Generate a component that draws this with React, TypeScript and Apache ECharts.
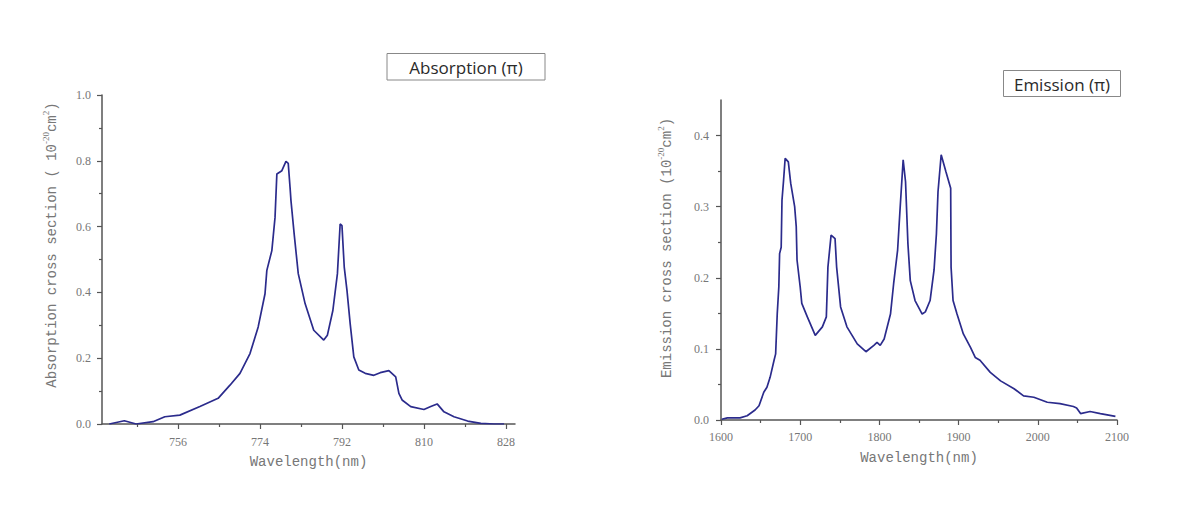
import React, { useEffect, useRef } from "react";
import * as echarts from "echarts";

// Absorption (π) spectrum
const absWavelength = [740.9, 744.2, 746.8, 750.5, 753.1, 756.4, 760.8, 764.8, 767.4, 769.6, 771.8, 773.6, 775.1, 775.5, 776.6, 777.3, 777.7, 778.8, 779.7, 780.2, 780.6, 780.8, 781.5, 782.4, 783.9, 785.8, 788.0, 788.8, 790.0, 791.0, 791.6, 792.0, 792.5, 793.1, 793.8, 794.6, 795.7, 797.1, 799.0, 800.4, 802.3, 803.8, 804.5, 805.2, 807.1, 810.0, 811.5, 812.9, 814.4, 816.6, 819.6, 822.5, 825.4, 827.6];
const absValue = [0.0, 0.010, 0.0, 0.007, 0.022, 0.027, 0.053, 0.078, 0.118, 0.154, 0.214, 0.295, 0.396, 0.467, 0.527, 0.628, 0.760, 0.770, 0.798, 0.792, 0.719, 0.679, 0.578, 0.457, 0.366, 0.285, 0.255, 0.270, 0.345, 0.457, 0.608, 0.603, 0.477, 0.406, 0.305, 0.204, 0.164, 0.154, 0.148, 0.156, 0.162, 0.143, 0.093, 0.073, 0.053, 0.044, 0.053, 0.061, 0.037, 0.022, 0.009, 0.002, 0.0, 0.0];

// Emission (π) spectrum
const emiWavelength = [1601, 1608, 1624, 1633, 1643, 1648, 1654, 1658, 1662, 1667, 1669, 1671, 1673, 1674, 1676, 1677, 1679, 1681, 1685, 1688, 1693, 1695, 1696, 1700, 1702, 1709, 1719, 1728, 1733, 1735, 1739, 1744, 1746, 1751, 1759, 1772, 1783, 1793, 1797, 1801, 1806, 1814, 1818, 1823, 1826, 1830, 1833, 1836, 1839, 1845, 1854, 1858, 1864, 1869, 1872, 1874, 1878, 1884, 1890, 1890.5, 1893, 1898, 1906, 1915, 1921, 1927, 1940, 1953, 1970, 1982, 1995, 2012, 2028, 2045, 2049, 2054, 2066, 2079, 2098];
const emiValue = [0.001, 0.003, 0.003, 0.006, 0.014, 0.020, 0.039, 0.046, 0.060, 0.084, 0.093, 0.149, 0.187, 0.234, 0.243, 0.309, 0.337, 0.368, 0.363, 0.333, 0.300, 0.272, 0.225, 0.187, 0.164, 0.145, 0.119, 0.131, 0.145, 0.215, 0.260, 0.255, 0.215, 0.159, 0.131, 0.107, 0.096, 0.105, 0.109, 0.105, 0.114, 0.149, 0.192, 0.239, 0.295, 0.366, 0.335, 0.248, 0.196, 0.168, 0.149, 0.152, 0.168, 0.211, 0.262, 0.321, 0.373, 0.349, 0.326, 0.215, 0.168, 0.149, 0.121, 0.102, 0.088, 0.084, 0.067, 0.055, 0.044, 0.034, 0.032, 0.025, 0.023, 0.019, 0.017, 0.009, 0.012, 0.009, 0.005];

// Tick values
const absXTicks = [756, 774, 792, 810, 828];
const absXMinorTicks = [747, 765, 783, 801, 819];
const absYTicks = [0, 0.2, 0.4, 0.6, 0.8, 1.0];
const absYMinorTicks = [0.1, 0.3, 0.5, 0.7, 0.9];
const emiXTicks = [1600, 1700, 1800, 1900, 2000, 2100];
const emiXMinorTicks = [1650, 1750, 1850, 1950, 2050];
const emiYTicks = [0, 0.1, 0.2, 0.3, 0.4];
const emiYMinorTicks = [0.05, 0.15, 0.25, 0.35];

const absTitle = "Absorption (π)";
const emiTitle = "Emission (π)";
const xName = "Wavelength(nm)";
const absYName = "{t|Absorption cross section ( 10}{s|-20}{t|cm}{s|2}{t|)}";
const emiYName = "{t|Emission cross section (10}{s|-20}{t|cm}{s|2}{t|)}";

const LINE = "#2b2b8c";
const AXIS = "#555";
const LABEL = "#777";
const MONO = "'Liberation Mono', 'DejaVu Sans Mono', monospace";
const SERIF = "'Liberation Serif', 'DejaVu Serif', serif";

function majorX(gridIndex: number, min: number, max: number, ticks: number[], margin: number) {
  return {
    type: "value",
    gridIndex,
    position: "bottom",
    min,
    max,
    axisLine: { show: true, onZero: false, lineStyle: { color: AXIS, width: 1.5 } },
    axisTick: { show: true, customValues: ticks, length: 5, lineStyle: { color: AXIS, width: 1.2 } },
    axisLabel: {
      show: true,
      customValues: ticks,
      margin,
      color: LABEL,
      fontFamily: SERIF,
      fontSize: 12,
      formatter: (v: number) => String(v),
    },
    splitLine: { show: false },
    name: xName,
    nameLocation: "middle",
    nameGap: 31,
    nameTextStyle: { color: LABEL, fontFamily: MONO, fontSize: 14 },
  };
}

function minorX(gridIndex: number, min: number, max: number, ticks: number[]) {
  return {
    type: "value",
    gridIndex,
    position: "bottom",
    min,
    max,
    axisLine: { show: false, onZero: false },
    axisTick: { show: true, customValues: ticks, length: 3, lineStyle: { color: AXIS, width: 1.2 } },
    axisLabel: { show: false },
    splitLine: { show: false },
  };
}

function majorY(gridIndex: number, min: number, max: number, ticks: number[], margin: number) {
  return {
    type: "value",
    gridIndex,
    position: "left",
    min,
    max,
    axisLine: { show: true, onZero: false, lineStyle: { color: AXIS, width: 1.5 } },
    axisTick: { show: true, customValues: ticks, length: 5, lineStyle: { color: AXIS, width: 1.2 } },
    axisLabel: {
      show: true,
      customValues: ticks,
      margin,
      color: LABEL,
      fontFamily: SERIF,
      fontSize: 12,
      formatter: (v: number) => v.toFixed(1),
    },
    splitLine: { show: false },
  };
}

function minorY(gridIndex: number, min: number, max: number, ticks: number[]) {
  return {
    type: "value",
    gridIndex,
    position: "left",
    min,
    max,
    axisLine: { show: false, onZero: false },
    axisTick: { show: true, customValues: ticks, length: 3, lineStyle: { color: AXIS, width: 1.2 } },
    axisLabel: { show: false },
    splitLine: { show: false },
  };
}

const richName = {
  t: { fontFamily: MONO, fontSize: 14, color: LABEL, lineHeight: 17, verticalAlign: "bottom" },
  s: { fontFamily: SERIF, fontSize: 9, color: LABEL, lineHeight: 17, verticalAlign: "top", padding: [0, 0, 7, 0] },
};

export default function App() {
  const ref = useRef<HTMLDivElement>(null);

  useEffect(() => {
    if (!ref.current) return;
    const chart = echarts.init(ref.current, null, { renderer: "svg" });

    const absData = absWavelength.map((x, i) => [x, absValue[i]]);
    const emiData = emiWavelength.map((x, i) => [x, emiValue[i]]);

    chart.setOption({
      animation: false,
      backgroundColor: "#ffffff",
      grid: [
        { left: 102, top: 95, width: 413, height: 329, outerBoundsMode: "none", containLabel: false },
        { left: 721, top: 100, width: 396, height: 320, outerBoundsMode: "none", containLabel: false },
      ],
      xAxis: [
        majorX(0, 739.3, 830, absXTicks, 12),
        minorX(0, 739.3, 830, absXMinorTicks),
        majorX(1, 1600, 2100, emiXTicks, 11),
        minorX(1, 1600, 2100, emiXMinorTicks),
      ],
      yAxis: [
        majorY(0, 0, 1.0, absYTicks, 11),
        minorY(0, 0, 1.0, absYMinorTicks),
        majorY(1, 0, 0.45, emiYTicks, 12),
        minorY(1, 0, 0.45, emiYMinorTicks),
      ],
      series: [
        {
          type: "line",
          xAxisIndex: 0,
          yAxisIndex: 0,
          data: absData,
          showSymbol: false,
          symbol: "none",
          lineStyle: { color: LINE, width: 1.7 },
        },
        {
          type: "line",
          xAxisIndex: 2,
          yAxisIndex: 2,
          data: emiData,
          showSymbol: false,
          symbol: "none",
          lineStyle: { color: LINE, width: 1.7 },
        },
      ],
      graphic: [
        {
          type: "rect",
          shape: { x: 387, y: 53.5, width: 158, height: 26.5 },
          style: { fill: "#fff", stroke: "#888", lineWidth: 1 },
        },
        {
          type: "text",
          x: 466,
          y: 67,
          style: {
            text: absTitle,
            fontFamily: "'Open Sans', 'Noto Sans', sans-serif",
            fontSize: 17,
            fill: "#2a2a2a",
            align: "center",
            verticalAlign: "middle",
          },
        },
        {
          type: "rect",
          shape: { x: 1003.5, y: 70.5, width: 117, height: 26 },
          style: { fill: "#fff", stroke: "#888", lineWidth: 1 },
        },
        {
          type: "text",
          x: 1062,
          y: 84,
          style: {
            text: emiTitle,
            fontFamily: "'Open Sans', 'Noto Sans', sans-serif",
            fontSize: 17,
            fill: "#2a2a2a",
            align: "center",
            verticalAlign: "middle",
          },
        },
        {
          type: "text",
          x: 50,
          y: 245,
          rotation: Math.PI / 2,
          style: {
            text: absYName,
            rich: richName,
            fontFamily: MONO,
            fontSize: 14,
            fill: LABEL,
            align: "center",
            verticalAlign: "middle",
          },
        },
        {
          type: "text",
          x: 665,
          y: 248,
          rotation: Math.PI / 2,
          style: {
            text: emiYName,
            rich: richName,
            fontFamily: MONO,
            fontSize: 14,
            fill: LABEL,
            align: "center",
            verticalAlign: "middle",
          },
        },
      ],
    });

    return () => chart.dispose();
  }, []);

  return (
    <div
      ref={ref}
      style={{ position: "absolute", left: 0, top: 0, width: 1182, height: 531 }}
    />
  );
}
